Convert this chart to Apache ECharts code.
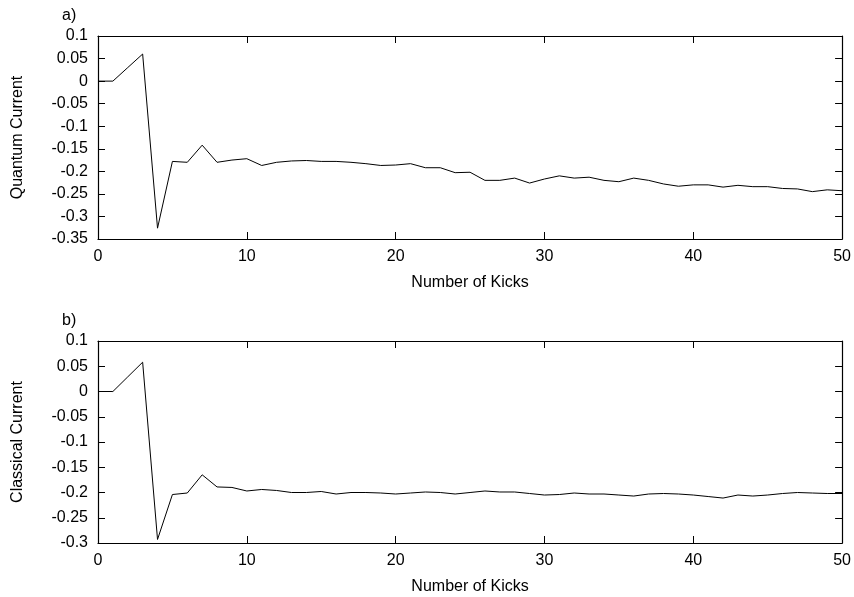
<!DOCTYPE html>
<html>
<head>
<meta charset="utf-8">
<script src="https://cdn.jsdelivr.net/npm/echarts@6/dist/echarts.min.js"></script>
<style>
html,body{margin:0;padding:0;background:#fff;}
#chart{width:854px;height:597px;}
</style>
</head>
<body>
<div id="chart"></div>
<script>
// Number of kicks (x values)
const kicks = Array.from({length: 51}, (_, i) => i);

// Panel a) Quantum current
const quantumCurrent = [
  0, 0, 0.030, 0.060, -0.326, -0.178, -0.180, -0.142, -0.180, -0.175,
  -0.172, -0.187, -0.180, -0.177, -0.176, -0.178, -0.178, -0.180, -0.183, -0.187,
  -0.186, -0.183, -0.192, -0.192, -0.203, -0.202, -0.220, -0.220, -0.215, -0.226,
  -0.217, -0.210, -0.215, -0.213, -0.220, -0.223, -0.215, -0.220, -0.228, -0.233,
  -0.230, -0.230, -0.235, -0.231, -0.234, -0.234, -0.238, -0.239, -0.245, -0.241,
  -0.243
];

// Panel b) Classical current
const classicalCurrent = [
  0, 0, 0.029, 0.058, -0.293, -0.204, -0.201, -0.165, -0.189, -0.190,
  -0.197, -0.194, -0.196, -0.200, -0.200, -0.198, -0.203, -0.200, -0.200, -0.201,
  -0.203, -0.201, -0.199, -0.200, -0.203, -0.200, -0.197, -0.199, -0.199, -0.202,
  -0.205, -0.204, -0.201, -0.203, -0.203, -0.205, -0.207, -0.203, -0.202, -0.203,
  -0.205, -0.208, -0.211, -0.205, -0.207, -0.205, -0.202, -0.200, -0.201, -0.202,
  -0.202
];

const xTitle = 'Number of Kicks';
const yTitleA = 'Quantum Current';
const yTitleB = 'Classical Current';
const panelA = 'a)';
const panelB = 'b)';

const FONT = 'Liberation Sans';
const FS = 16;
const fmt = v => String(+v.toFixed(2));

function xAx(gi, top) {
  return {
    type: 'value', gridIndex: gi, min: 0, max: 50, interval: 10,
    position: top ? 'top' : 'bottom',
    name: top ? '' : xTitle, nameLocation: 'middle', nameGap: 36,
    nameTextStyle: {fontFamily: FONT, fontSize: FS, color: '#000'},
    axisLine: {show: true, onZero: false, lineStyle: {color: '#000', width: 1.2}},
    axisTick: {show: true, inside: true, length: 7, lineStyle: {color: '#000'}},
    axisLabel: {show: !top, margin: 10, fontFamily: FONT, fontSize: FS, color: '#000'},
    splitLine: {show: false}
  };
}
function yAx(gi, right, min, name) {
  return {
    type: 'value', gridIndex: gi, min: min, max: 0.1, interval: 0.05,
    position: right ? 'right' : 'left',
    name: right ? '' : name, nameLocation: 'middle', nameGap: 72,
    nameTextStyle: {fontFamily: FONT, fontSize: FS, color: '#000'},
    axisLine: {show: true, onZero: false, lineStyle: {color: '#000', width: 1.2}},
    axisTick: {show: true, inside: true, length: 7, lineStyle: {color: '#000'}},
    axisLabel: {show: !right, margin: 10, fontFamily: FONT, fontSize: FS, color: '#000', formatter: fmt},
    splitLine: {show: false}
  };
}

const chart = echarts.init(document.getElementById('chart'), null, {renderer: 'canvas'});
chart.setOption({
  animation: false,
  backgroundColor: '#fff',
  title: [
    {text: panelA, left: 57, top: 3, textStyle: {fontFamily: FONT, fontSize: FS, fontWeight: 'normal', color: '#000'}},
    {text: panelB, left: 57, top: 308, textStyle: {fontFamily: FONT, fontSize: FS, fontWeight: 'normal', color: '#000'}}
  ],
  grid: [
    {left: 98, right: 11, top: 36, height: 203},
    {left: 98, right: 11, top: 341, height: 202}
  ],
  xAxis: [xAx(0, false), xAx(0, true), xAx(1, false), xAx(1, true)],
  yAxis: [yAx(0, false, -0.35, yTitleA), yAx(0, true, -0.35, ''), yAx(1, false, -0.3, yTitleB), yAx(1, true, -0.3, '')],
  series: [
    {type: 'line', xAxisIndex: 0, yAxisIndex: 0, symbol: 'none',
     lineStyle: {color: '#000', width: 1}, data: kicks.map((k, i) => [k, quantumCurrent[i]])},
    {type: 'line', xAxisIndex: 2, yAxisIndex: 2, symbol: 'none',
     lineStyle: {color: '#000', width: 1}, data: kicks.map((k, i) => [k, classicalCurrent[i]])}
  ]
});
</script>
</body>
</html>
